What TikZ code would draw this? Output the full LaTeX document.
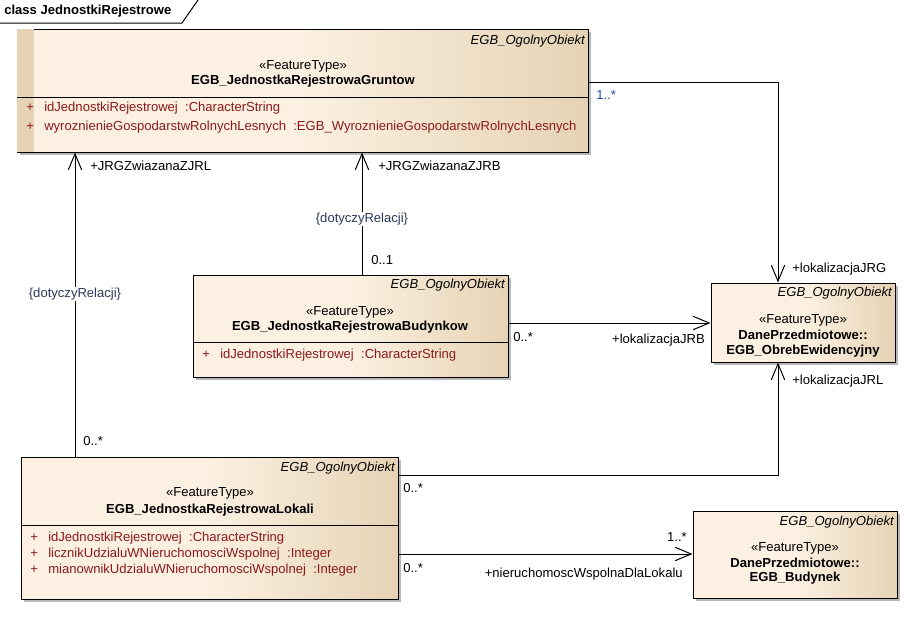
\documentclass[tikz,border=0pt]{standalone}
\usepackage{fontspec}
\setmainfont{Liberation Sans}
\usetikzlibrary{arrows.meta,calc,shadows}
\definecolor{cream}{HTML}{FBF0E1}
\definecolor{tan}{HTML}{E6D3B5}
\definecolor{attrred}{HTML}{8B1A1A}
\definecolor{consblue}{HTML}{2B3A5C}
\definecolor{multblue}{HTML}{1F4FA8}
\newcommand{\plus}{\makebox[13.5pt][l]{+}}

\begin{document}
\begin{tikzpicture}[x=0.75pt,y=-0.75pt,font=\fontsize{9.8}{12}\selectfont]
        \tikzstyle{every node}=[inner sep=0pt]
        \tikzstyle{klasa}=[draw,line width=0.75pt,rectangle,left color=cream,right color=tan,middle color=cream,
            drop shadow={shadow xshift=2.25pt,shadow yshift=-2.25pt,fill=black!28,opacity=1}]
        \tikzstyle{rodzic}=[anchor=east,font=\fontsize{9.8}{12}\selectfont\itshape]
        \tikzstyle{nazwa}=[font=\fontsize{9.8}{12}\selectfont\bfseries]
        \tikzstyle{atrybut}=[anchor=west,text=attrred]
        \tikzstyle{rola}=[anchor=west]
        \tikzstyle{ograniczenie}=[text=consblue,fill=white,inner sep=1pt]
        \tikzstyle{assoc}=[line width=0.75pt,-{Straight Barb[length=12pt,width=10pt]}]
        \useasboundingbox (0,0) rectangle (913,643);
        % ramka diagramu
        \draw[line width=0.75pt] (0,23) -- (182,23) -- (198,0);
        \node[anchor=west,font=\fontsize{9.8}{12}\selectfont\bfseries] (tytul) at (4,11) {class JednostkiRejestrowe};
        % klasy
        \node[klasa,minimum width=428.25pt,minimum height=92.25pt] (gruntow) at (302.5,90.5) {};
        \node[klasa,minimum width=236.25pt,minimum height=76.5pt] (budynkow) at (350.5,326) {};
        \node[klasa,minimum width=138pt,minimum height=59.25pt] (obreb) at (803,322.5) {};
        \node[klasa,minimum width=282.75pt,minimum height=106.5pt] (lokali) at (209.5,528) {};
        \node[klasa,minimum width=153pt,minimum height=65.25pt] (budynek) at (795,554.5) {};
        \fill[tan] ($(gruntow.north west)+(0.5,0.5)$) rectangle ($(gruntow.south west)+(17,-0.5)$);
        \draw[line width=0.75pt] (gruntow.west |- 0,97) -- (gruntow.east |- 0,97);
        \draw[line width=0.75pt] (budynkow.west |- 0,342) -- (budynkow.east |- 0,342);
        \draw[line width=0.75pt] (lokali.west |- 0,525) -- (lokali.east |- 0,525);
        % EGB_JednostkaRejestrowaGruntow
        \node[rodzic] (gruntowR) at (585,41) {EGB\_OgolnyObiekt};
        \node (gruntowS) at (303,66) {«FeatureType»};
        \node[nazwa] (gruntowN) at (303,81) {EGB\_JednostkaRejestrowaGruntow};
        \node[atrybut] (gruntowA1) at (26,108) {\plus idJednostkiRejestrowej\ \ :CharacterString};
        \node[atrybut] (gruntowA2) at (26,127) {\plus wyroznienieGospodarstwRolnychLesnych\ \ :EGB\_WyroznienieGospodarstwRolnychLesnych};
        % EGB_JednostkaRejestrowaBudynkow
        \node[rodzic] (budynkowR) at (505,285) {EGB\_OgolnyObiekt};
        \node (budynkowS) at (350,312) {«FeatureType»};
        \node[nazwa] (budynkowN) at (350,327) {EGB\_JednostkaRejestrowaBudynkow};
        \node[atrybut] (budynkowA1) at (202,355) {\plus idJednostkiRejestrowej\ \ :CharacterString};
        % EGB_ObrebEwidencyjny
        \node[rodzic] (obrebR) at (892,293) {EGB\_OgolnyObiekt};
        \node (obrebS) at (803,320) {«FeatureType»};
        \node[nazwa] (obrebP) at (803,335) {DanePrzedmiotowe::};
        \node[nazwa] (obrebN) at (803,351) {EGB\_ObrebEwidencyjny};
        % EGB_JednostkaRejestrowaLokali
        \node[rodzic] (lokaliR) at (395,468) {EGB\_OgolnyObiekt};
        \node (lokaliS) at (210,493) {«FeatureType»};
        \node[nazwa] (lokaliN) at (210,510) {EGB\_JednostkaRejestrowaLokali};
        \node[atrybut] (lokaliA1) at (30,538) {\plus idJednostkiRejestrowej\ \ :CharacterString};
        \node[atrybut] (lokaliA2) at (30,554) {\plus licznikUdzialuWNieruchomosciWspolnej\ \ :Integer};
        \node[atrybut] (lokaliA3) at (30,570) {\plus mianownikUdzialuWNieruchomosciWspolnej\ \ :Integer};
        % EGB_Budynek
        \node[rodzic] (budynekR) at (894,522) {EGB\_OgolnyObiekt};
        \node (budynekS) at (795,548) {«FeatureType»};
        \node[nazwa] (budynekP) at (795,563) {DanePrzedmiotowe::};
        \node[nazwa] (budynekN) at (795,578) {EGB\_Budynek};
        % asocjacje
        \draw[assoc] (gruntow.east |- 0,82) -| ($(obreb.north)+(-25,0)$);
        \draw[assoc] (budynkow.east |- 0,323) -- (obreb.west |- 0,323);
        \draw[assoc] (lokali.east |- 0,475) -| ($(obreb.south)+(-25,0)$);
        \draw[assoc] (lokali.east |- 0,554) -- (budynek.west |- 0,554);
        \draw[assoc] (lokali.north -| 75,0) -- (gruntow.south -| 75,0);
        \draw[assoc] (budynkow.north -| 362,0) -- (gruntow.south -| 362,0);
        % etykiety
        \node[rola,text=multblue] (m1) at (596,95) {1..*};
        \node[rola] (r1) at (792,269) {+lokalizacjaJRG};
        \node[rola] (m2) at (513,337) {0..*};
        \node[anchor=east] (r2) at (705,340) {+lokalizacjaJRB};
        \node[rola] (m3) at (403,488) {0..*};
        \node[rola] (r3) at (792,381) {+lokalizacjaJRL};
        \node[rola] (m4) at (403,568) {0..*};
        \node[anchor=east] (m5) at (687,537) {1..*};
        \node[anchor=east] (r4) at (683,574) {+nieruchomoscWspolnaDlaLokalu};
        \node[rola] (r5) at (90,166) {+JRGZwiazanaZJRL};
        \node[ograniczenie] (c1) at (75,294) {\{dotyczyRelacji\}};
        \node[rola] (m6) at (83,441) {0..*};
        \node[rola] (r6) at (378,166) {+JRGZwiazanaZJRB};
        \node[ograniczenie] (c2) at (362,219) {\{dotyczyRelacji\}};
        \node[rola] (m7) at (371,260) {0..1};
\end{tikzpicture}
\end{document}
